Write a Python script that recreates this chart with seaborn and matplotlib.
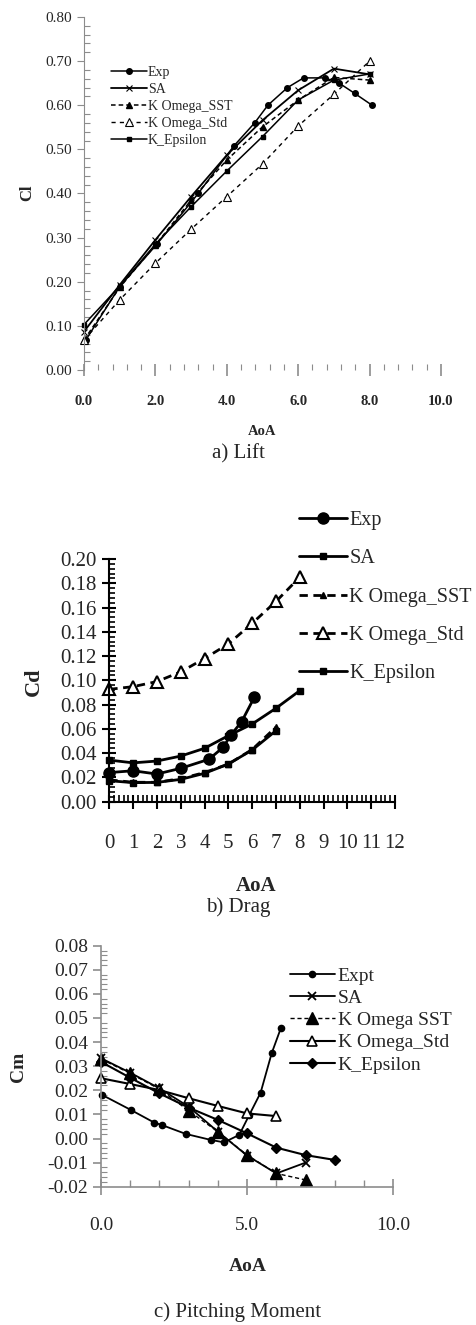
import numpy as np
import pandas as pd
import matplotlib
matplotlib.use("Agg")
import matplotlib.pyplot as plt
from matplotlib.ticker import MultipleLocator, FormatStrFormatter
import seaborn as sns

sns.set_theme(style="white")
plt.rcParams["font.family"] = ["Liberation Serif", "DejaVu Serif"]
plt.rcParams["mathtext.fontset"] = "stix"

# ---------------- Lift data ----------------
lift_exp_aoa = [0.05, 1.0, 2.04, 3.2, 4.2, 4.78, 5.15, 5.7, 6.15, 6.75, 7.15, 7.58, 8.07]
lift_exp_cl = [0.068, 0.189, 0.285, 0.400, 0.508, 0.560, 0.600, 0.640, 0.662, 0.662, 0.650, 0.627, 0.600]
lift_aoa = [0, 1, 2, 3, 4, 5, 6, 7, 8]
lift_sa = [0.087, 0.193, 0.295, 0.393, 0.487, 0.566, 0.634, 0.683, 0.670]
lift_sst = [0.068, 0.187, 0.283, 0.385, 0.476, 0.551, 0.612, 0.663, 0.657]
lift_std = [0.068, 0.159, 0.242, 0.319, 0.393, 0.467, 0.553, 0.625, 0.700]
lift_ke = [0.103, 0.190, 0.285, 0.370, 0.451, 0.529, 0.612, 0.657, 0.671]

# ---------------- Drag data ----------------
drag_exp_aoa = [0, 1, 2, 3, 4.19, 4.79, 5.11, 5.56, 6.09]
drag_exp_cd = [0.024, 0.0255, 0.0228, 0.0275, 0.035, 0.045, 0.055, 0.066, 0.086]
drag_aoa7 = [0, 1, 2, 3, 4, 5, 6, 7]
drag_sa = [0.0173, 0.0157, 0.0159, 0.0184, 0.0234, 0.031, 0.0426, 0.0585]
drag_sst = [0.018, 0.016, 0.016, 0.019, 0.024, 0.031, 0.043, 0.0615]
drag_aoa8 = [0, 1, 2, 3, 4, 5, 6, 7, 8]
drag_std = [0.0926, 0.0948, 0.099, 0.107, 0.118, 0.130, 0.147, 0.165, 0.185]
drag_ke = [0.0343, 0.032, 0.0335, 0.0376, 0.044, 0.0544, 0.064, 0.077, 0.0915]

# ---------------- Pitching moment data ----------------
cm_exp_aoa = [0.05, 1.03, 1.82, 2.08, 2.9, 3.76, 4.21, 4.73, 5.07, 5.46, 5.84, 6.15]
cm_exp = [0.018, 0.0118, 0.0066, 0.0056, 0.0019, -0.0006, -0.0016, 0.0015, 0.0097, 0.019, 0.0354, 0.0457]
cm_aoa7 = [0, 1, 2, 3, 4, 5, 6, 7]
cm_sa = [0.0333, 0.0273, 0.0208, 0.0132, 0.0028, -0.0071, -0.0145, -0.0100]
cm_sst = [0.0330, 0.0270, 0.0205, 0.0115, 0.0028, -0.0069, -0.0145, -0.0172]
cm_aoa6 = [0, 1, 2, 3, 4, 5, 6]
cm_std = [0.0250, 0.0226, 0.0201, 0.0167, 0.0135, 0.0104, 0.0093]
cm_aoa8 = [0, 1, 2, 3, 4, 5, 6, 7, 8]
cm_ke = [0.0318, 0.0252, 0.0187, 0.0128, 0.0077, 0.0021, -0.0038, -0.0069, -0.0089]

W, H = 476, 1325
fig = plt.figure(figsize=(W / 100, H / 100), dpi=100)


def axes_px(left, right, top, bottom):
    return fig.add_axes([left / W, 1 - bottom / H, (right - left) / W, (bottom - top) / H])


def series(ax, x, y, label, **kw):
    df = pd.DataFrame({"AoA": x, "val": y})
    kw.setdefault("markeredgecolor", "black")
    kw.setdefault("markeredgewidth", 1.0)
    sns.lineplot(data=df, x="AoA", y="val", ax=ax, label=label, color="black",
                 errorbar=None, sort=False, clip_on=False, **kw)


GRAY = "#8c8c8c"

# ====================== a) Lift ======================
ax = axes_px(84, 441, 17, 370)
series(ax, lift_exp_aoa, lift_exp_cl, "Exp", marker="o", markersize=4, linewidth=1.1)
series(ax, lift_aoa, lift_sa, "SA", marker="x", markersize=4, linewidth=1.3, markeredgewidth=0.8)
series(ax, lift_aoa, lift_sst, "K Omega_SST", marker="^", markersize=4, linewidth=1.1, linestyle=(0, (3, 2)))
series(ax, lift_aoa, lift_std, "K Omega_Std", marker="^", markersize=5.5, markerfacecolor="white",
       linewidth=1.0, linestyle=(0, (3, 3)), markeredgewidth=0.8)
series(ax, lift_aoa, lift_ke, "K_Epsilon", marker="s", markersize=3.5, linewidth=1.1)
ax.set_xlim(0, 10)
ax.set_ylim(0, 0.8)
for s in ["top", "right", "bottom"]:
    ax.spines[s].set_visible(False)
ax.spines["left"].set_color(GRAY)
ax.spines["left"].set_linewidth(0.8)
ax.xaxis.set_major_locator(MultipleLocator(2))
ax.xaxis.set_minor_locator(MultipleLocator(0.4))
ax.yaxis.set_major_locator(MultipleLocator(0.1))
ax.yaxis.set_minor_locator(MultipleLocator(0.02))
ax.xaxis.set_major_formatter(FormatStrFormatter("%.1f"))
ax.yaxis.set_major_formatter(FormatStrFormatter("%.2f"))
ax.tick_params(axis="x", which="major", direction="inout", length=8, width=1.2, color=GRAY,
               pad=14, labelsize=10.5, bottom=True)
ax.tick_params(axis="x", which="minor", direction="in", length=4, width=0.8, color=GRAY, bottom=True)
ax.tick_params(axis="y", which="major", direction="out", length=5, width=0.8, color=GRAY,
               pad=4, labelsize=11, left=True)
ax.tick_params(axis="y", which="minor", direction="in", length=4, width=0.8, color=GRAY, left=True)
for t in ax.get_xticklabels():
    t.set_fontweight("bold")
ax.set_xlabel("AoA", fontsize=10.5, fontweight="bold")
ax.set_ylabel("Cl", fontsize=12, fontweight="bold")
ax.xaxis.set_label_coords((262 - 84) / 357, -(425 - 370) / 353)
ax.yaxis.set_label_coords(-(84 - 35) / 357, (370 - 193) / 353)
ax.legend(loc="upper left", bbox_to_anchor=(111 / W, 1 - 66 / H), bbox_transform=fig.transFigure,
          frameon=False, fontsize=10, handlelength=2.6, handletextpad=0.05, labelspacing=0.28,
          borderpad=0, borderaxespad=0)
fig.text(238 / W, 1 - 454 / H, "a) Lift", ha="center", va="center", fontsize=15)

# ====================== b) Drag ======================
ax = axes_px(109.3, 395, 559, 801.7)
series(ax, drag_exp_aoa, drag_exp_cd, "Exp", marker="o", markersize=8, linewidth=2)
series(ax, drag_aoa7, drag_sa, "SA", marker="s", markersize=4, linewidth=2)
series(ax, drag_aoa7, drag_sst, "K Omega_SST", marker="^", markersize=5, linewidth=2, linestyle=(0, (3, 2)))
series(ax, drag_aoa8, drag_std, "K Omega_Std", marker="^", markersize=9, markerfacecolor="white",
       linewidth=2, linestyle=(0, (3, 2)), markeredgewidth=1.5)
series(ax, drag_aoa8, drag_ke, "K_Epsilon", marker="s", markersize=5, linewidth=2)
ax.set_xlim(0, 12)
ax.set_ylim(0, 0.2)
for s in ["top", "right"]:
    ax.spines[s].set_visible(False)
for s in ["left", "bottom"]:
    ax.spines[s].set_color("black")
    ax.spines[s].set_linewidth(1.5)
ax.xaxis.set_major_locator(MultipleLocator(1))
ax.xaxis.set_minor_locator(MultipleLocator(0.2))
ax.yaxis.set_major_locator(MultipleLocator(0.02))
ax.yaxis.set_minor_locator(MultipleLocator(0.004))
ax.yaxis.set_major_formatter(FormatStrFormatter("%.2f"))
ax.tick_params(axis="x", which="major", direction="inout", length=10, width=1.5, color="black",
               pad=18, labelsize=15, bottom=True)
ax.tick_params(axis="x", which="minor", direction="in", length=5, width=1.2, color="black", bottom=True)
ax.tick_params(axis="y", which="major", direction="inout", length=10, width=1.5, color="black",
               pad=4, labelsize=15, left=True)
ax.tick_params(axis="y", which="minor", direction="in", length=4, width=1.2, color="black", left=True)
ax.set_xlabel("AoA", fontsize=15, fontweight="bold")
ax.set_ylabel("Cd", fontsize=16, fontweight="bold")
ax.xaxis.set_label_coords((256 - 109.3) / 285.7, -(876 - 801.7) / 242.7)
ax.yaxis.set_label_coords(-(109.3 - 44) / 285.7, (801.7 - 682) / 242.7)
ax.legend(loc="upper left", bbox_to_anchor=(299 / W, 1 - 511 / H), bbox_transform=fig.transFigure,
          frameon=False, fontsize=14.5, handlelength=2.4, handletextpad=0.1, labelspacing=0.95,
          borderpad=0, borderaxespad=0)
fig.text(238 / W, 1 - 907 / H, "b) Drag", ha="center", va="center", fontsize=15)

# ====================== c) Pitching Moment ======================
ax = axes_px(101, 393.3, 945.7, 1186.7)
series(ax, cm_exp_aoa, cm_exp, "Expt", marker="o", markersize=4.5, linewidth=1.3)
series(ax, cm_aoa7, cm_sa, "SA", marker="x", markersize=6, linewidth=1.3, markeredgewidth=1.3)
series(ax, cm_aoa7, cm_sst, "K Omega SST", marker="^", markersize=8, linewidth=1.0, linestyle=(0, (3, 2)))
series(ax, cm_aoa6, cm_std, "K Omega_Std", marker="^", markersize=7, markerfacecolor="white",
       linewidth=1.5, markeredgewidth=1.2)
series(ax, cm_aoa8, cm_ke, "K_Epsilon", marker="D", markersize=5.5, linewidth=1.5)
ax.set_xlim(0, 10)
ax.set_ylim(-0.02, 0.08)
for s in ["top", "right"]:
    ax.spines[s].set_visible(False)
for s in ["left", "bottom"]:
    ax.spines[s].set_color(GRAY)
    ax.spines[s].set_linewidth(1.2)
ax.xaxis.set_major_locator(MultipleLocator(5))
ax.xaxis.set_minor_locator(MultipleLocator(1))
ax.yaxis.set_major_locator(MultipleLocator(0.01))
ax.yaxis.set_minor_locator(MultipleLocator(0.002))
ax.xaxis.set_major_formatter(FormatStrFormatter("%.1f"))
ax.yaxis.set_major_formatter(FormatStrFormatter("%.2f"))
ax.tick_params(axis="x", which="major", direction="inout", length=12, width=1.2, color=GRAY,
               pad=16, labelsize=14, bottom=True)
ax.tick_params(axis="x", which="minor", direction="in", length=5, width=1.0, color=GRAY, bottom=True)
ax.tick_params(axis="y", which="major", direction="out", length=6, width=1.2, color=GRAY,
               pad=3, labelsize=14, left=True)
ax.tick_params(axis="y", which="minor", direction="in", length=4, width=0.8, color=GRAY, left=True)
ax.set_xlabel("AoA", fontsize=14, fontweight="bold")
ax.set_ylabel("Cm", fontsize=14, fontweight="bold")
ax.xaxis.set_label_coords((248 - 101) / 292.3, -(1258 - 1186.7) / 241)
ax.yaxis.set_label_coords(-(101 - 27) / 292.3, (1186.7 - 1067) / 241)
ax.legend(loc="upper left", bbox_to_anchor=(290 / W, 1 - 967 / H), bbox_transform=fig.transFigure,
          frameon=False, fontsize=14, handlelength=2.3, handletextpad=0.15, labelspacing=0.24,
          borderpad=0, borderaxespad=0)
fig.text(238 / W, 1 - 1312 / H, "c) Pitching Moment", ha="center", va="center", fontsize=15)

fig.savefig("out.png", dpi=100)
